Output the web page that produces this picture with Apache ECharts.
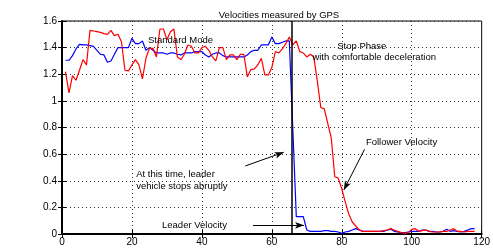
<!DOCTYPE html>
<html>
<head>
<meta charset="utf-8">
<script src="https://cdn.jsdelivr.net/npm/echarts@6/dist/echarts.min.js"></script>
<style>html,body{margin:0;padding:0;background:#fff;}#c{width:493px;height:250px;}</style>
</head>
<body>
<div id="c"></div>
<script>
var titleText = 'Velocities measured by GPS';
var xTicks = [0, 20, 40, 60, 80, 100, 120];
var yTicks = [0, 0.2, 0.4, 0.6, 0.8, 1, 1.2, 1.4, 1.6];
var time = [];
for (var k = 1; k <= 118; k++) time.push(k);
var leaderVelocity = [
 1.305,1.305,1.34,1.39,1.425,1.42,1.42,1.415,1.41,1.38,
 1.35,1.345,1.29,1.30,1.35,1.40,1.40,1.40,1.40,1.47,
 1.43,1.43,1.45,1.38,1.40,1.38,1.36,1.36,1.36,1.35,
 1.36,1.36,1.35,1.345,1.36,1.36,1.36,1.37,1.37,1.37,
 1.345,1.33,1.35,1.36,1.36,1.34,1.33,1.33,1.33,1.33,
 1.33,1.33,1.345,1.37,1.38,1.38,1.42,1.42,1.42,1.48,
 1.43,1.43,1.44,1.45,1.45,0.79,0.13,0.13,0.13,0.03,
 0.02,0.02,0.02,0.02,0.025,0.025,0.02,0.02,0.015,0.005,
 0.015,0.02,0.03,0.04,0.03,0.02,0.02,0.02,0.02,0.02,
 0.02,0.02,0.03,0.035,0.02,0.015,0.01,0.01,0.015,0.02,
 0.02,0.02,0.03,0.03,0.02,0.02,0.015,0.015,0.02,0.035,
 0.02,0.025,0.02,0.015,0.02,0.03,0.04,0.04];
var followerVelocity = [
 1.22,1.06,1.19,1.155,1.23,1.31,1.27,1.53,1.525,1.52,
 1.515,1.505,1.50,1.53,1.49,1.50,1.445,1.23,1.225,1.27,
 1.31,1.27,1.165,1.32,1.395,1.395,1.33,1.54,1.54,1.46,
 1.52,1.54,1.33,1.31,1.35,1.42,1.41,1.36,1.36,1.40,
 1.41,1.38,1.33,1.30,1.40,1.40,1.31,1.345,1.345,1.31,
 1.35,1.35,1.18,1.235,1.24,1.27,1.32,1.195,1.195,1.25,
 1.37,1.36,1.39,1.43,1.48,1.42,1.45,1.37,1.36,1.33,
 1.35,1.33,1.15,0.95,0.94,0.83,0.72,0.43,0.42,0.34,
 0.24,0.15,0.09,0.06,0.03,0.02,0.02,0.02,0.02,0.02,
 0.02,0.025,0.03,0.04,0.03,0.02,0.01,0.005,0.01,0.035,
 0.04,0.02,0.025,0.03,0.02,0.015,0.015,0.015,0.02,0.02,
 0.03,0.04,0.02,0.02,0.015,0.02,0.02,0.02];
var stopTime = 65.6;
// annotation texts with data anchor (left edge, vertical middle)
var annotations = [
 {text: 'Standard Mode', x: 24.6, y: 1.452},
 {text: 'Stop Phase', x: 78.7, y: 1.407},
 {text: 'with comfortable deceleration', x: 71.6, y: 1.325},
 {text: 'At this time, leader', x: 21.2, y: 0.451},
 {text: 'vehicle stops abruptly', x: 21.2, y: 0.361},
 {text: 'Leader Velocity', x: 28.6, y: 0.068},
 {text: 'Follower Velocity', x: 86.9, y: 0.691}
];
var arrows = [
 [[52.4, 0.511], [63.4, 0.614]],
 [[54.6, 0.065], [69.2, 0.065]],
 [[86.5, 0.636], [80.6, 0.331]]
];

var FONT = 'Liberation Sans, Arial, Helvetica, sans-serif';
var chart = echarts.init(document.getElementById('c'), null, {renderer: 'canvas'});

function pairs(xs, ys) { return xs.map(function (x, i) { return [x, ys[i]]; }); }

var option = {
  animation: false,
  backgroundColor: '#fff',
  title: {
    text: titleText, left: 274, top: 5, textAlign: 'center',
    textStyle: {fontSize: 9.5, fontWeight: 'normal', color: '#000', fontFamily: FONT}
  },
  grid: {left: 62, right: 7, top: 21, bottom: 16, show: true, borderColor: '#000', borderWidth: 1, containLabel: false},
  xAxis: [{
    type: 'value', min: xTicks[0], max: xTicks[xTicks.length - 1], interval: 20,
    axisLine: {show: true, onZero: false, lineStyle: {color: '#000', width: 2}},
    axisTick: {show: true, inside: true, length: 4, lineStyle: {color: '#000'}},
    axisLabel: {fontSize: 10, color: '#000', fontFamily: FONT, margin: 3},
    splitLine: {show: true, lineStyle: {color: '#333', type: [1, 3], width: 1}}
  }, {
    type: 'value', position: 'top', min: xTicks[0], max: xTicks[xTicks.length - 1], interval: 20,
    axisLine: {show: false}, axisTick: {show: true, inside: true, length: 4, lineStyle: {color: '#000'}},
    axisLabel: {show: false}, splitLine: {show: false}
  }],
  yAxis: [{
    type: 'value', min: yTicks[0], max: yTicks[yTicks.length - 1], interval: 0.2,
    axisLine: {show: true, onZero: false, lineStyle: {color: '#000', width: 2}},
    axisTick: {show: true, inside: true, length: 4, lineStyle: {color: '#000'}},
    axisLabel: {fontSize: 10, color: '#000', fontFamily: FONT, margin: 5},
    splitLine: {show: true, lineStyle: {color: '#333', type: [1, 3], width: 1}}
  }, {
    type: 'value', position: 'right', min: yTicks[0], max: yTicks[yTicks.length - 1], interval: 0.2,
    axisLine: {show: false}, axisTick: {show: true, inside: true, length: 4, lineStyle: {color: '#000'}},
    axisLabel: {show: false}, splitLine: {show: false}
  }],
  series: [{
    name: 'Leader Velocity', type: 'line', data: pairs(time, leaderVelocity),
    showSymbol: false, symbol: 'none', lineStyle: {color: '#0000ff', width: 1.2}, z: 3,
    markLine: {
      silent: true, symbol: ['none', 'none'], label: {show: false},
      lineStyle: {color: '#000', width: 1.5, type: 'solid'},
      data: [{xAxis: stopTime}]
    }
  }, {
    name: 'Follower Velocity', type: 'line', data: pairs(time, followerVelocity),
    showSymbol: false, symbol: 'none', lineStyle: {color: '#ff0000', width: 1.2}, z: 4,
    markLine: {
      silent: true, symbol: ['none', 'arrow'], symbolSize: [5, 9], label: {show: false},
      lineStyle: {color: '#000', width: 1, type: 'solid'},
      data: arrows.map(function (a) { return [{coord: a[0]}, {coord: a[1]}]; })
    }
  }]
};
chart.setOption(option);

var g = annotations.map(function (a) {
  var p = chart.convertToPixel({xAxisIndex: 0, yAxisIndex: 0}, [a.x, a.y]);
  return {
    type: 'text', x: p[0], y: p[1], z: 100,
    style: {text: a.text, fill: '#000', fontSize: 9.5, fontFamily: FONT, textAlign: 'left', textVerticalAlign: 'middle'}
  };
});
chart.setOption({graphic: g});
</script>
</body>
</html>
